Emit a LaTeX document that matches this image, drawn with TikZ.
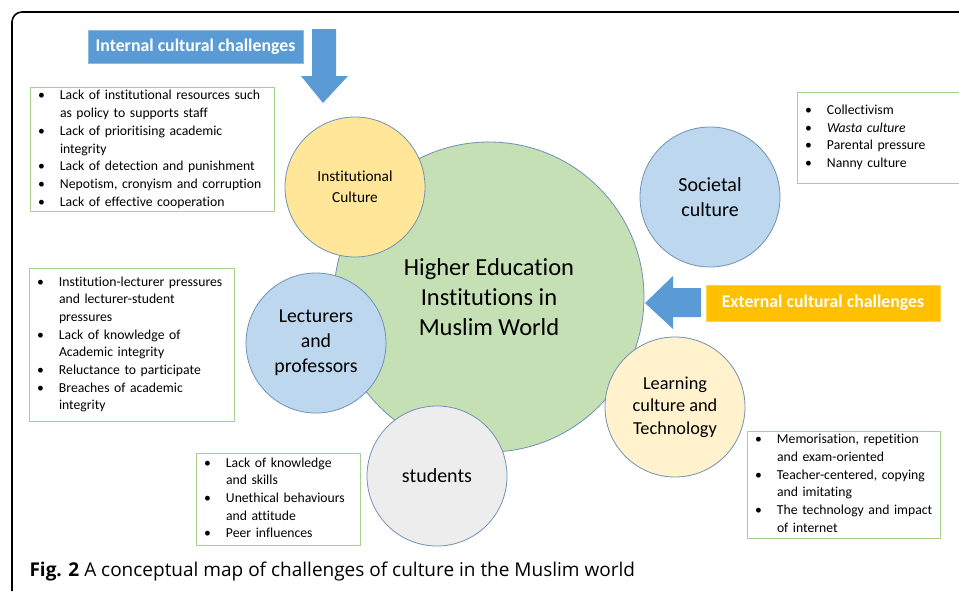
\documentclass[tikz,border=0pt]{standalone}
\usepackage{fontspec}
\setmainfont{Carlito}[Ligatures=NoCommon]
\newfontfamily\capfont{Open Sans}
\usetikzlibrary{positioning}

\definecolor{hubgreen}{RGB}{197,224,180}
\definecolor{circline}{RGB}{110,145,180}
\definecolor{instyellow}{RGB}{255,230,153}
\definecolor{lightblue}{RGB}{189,215,238}
\definecolor{paleyellow}{RGB}{255,242,204}
\definecolor{lightgray}{RGB}{237,237,237}
\definecolor{boxgreen}{RGB}{169,209,142}
\definecolor{tagblue}{RGB}{91,155,213}
\definecolor{tagorange}{RGB}{255,192,0}

\tikzset{
  hub/.style={circle, draw=circline, line width=0.8pt, fill=hubgreen,
    minimum size=310pt, inner sep=0pt, align=center,
    font=\fontsize{24.5}{30}\selectfont},
  area/.style={circle, draw=circline, line width=0.8pt, fill=#1,
    minimum size=140pt, inner sep=0pt, align=center},
  listbox/.style 2 args={draw=boxgreen, line width=0.9pt, fill=white,
    text width=#1-16pt, minimum height=#2, inner xsep=8pt, inner ysep=0pt,
    align=left, font=\fontsize{13.7}{17.7}\selectfont},
  tagbox/.style={fill=#1, draw=#1!70!white, line width=0.6pt, text=white,
    inner sep=0pt, font=\fontsize{17.8}{20}\selectfont\bfseries}
}
\newcommand{\blist}[1]{\begin{tabular}{@{}p{22pt}@{}l@{}}#1\end{tabular}}
\newcommand{\bi}{\textbullet &}

\begin{document}
\begin{tikzpicture}[x=1pt,y=-1pt]
\useasboundingbox (0,0) rectangle (959,592);
\draw[line width=1.6pt, rounded corners=10pt] (12,591) -- (12,12) -- (975,12) -- (975,591);

% centre and the five areas
\node[hub] (hei) at (489,297) {Higher Education\\Institutions in\\Muslim World};
\node[area=instyellow, font=\fontsize{15.3}{21}\selectfont] (inst) at (355,187) {Institutional\\Culture};
\node[area=lightblue, font=\fontsize{20}{25}\selectfont] (soc) at (710,197) {Societal\\culture};
\node[area=lightblue, font=\fontsize{19.8}{25}\selectfont] (lect) at (316,343) {Lecturers\\and\\professors};
\node[area=paleyellow, font=\fontsize{18.3}{22.5}\selectfont] (learn) at (675,407) {Learning\\culture and\\Technology};
\node[area=lightgray, font=\fontsize{20}{24}\selectfont] (stud) at (437,476) {students};

% challenge lists
\node[listbox={244pt}{123pt}] (instlist) at (152,149.5) {\blist{
  \bi Lack of institutional resources such\\
      & as policy to supports staff\\
  \bi Lack of prioritising academic\\
      & integrity\\
  \bi Lack of detection and punishment\\
  \bi Nepotism, cronyism and corruption\\
  \bi Lack of effective cooperation}};
\node[listbox={162pt}{91pt}] (soclist) at (878,137.5) {\blist{
  \bi Collectivism\\
  \bi \textit{Wasta culture}\\
  \bi Parental pressure\\
  \bi Nanny culture}};
\node[listbox={205pt}{153pt}] (lectlist) at (131.5,344.5) {\blist{
  \bi Institution-lecturer pressures\\
      & and lecturer-student\\
      & pressures\\
  \bi Lack of knowledge of\\
      & Academic integrity\\
  \bi Reluctance to participate\\
  \bi Breaches of academic\\
      & integrity}};
\node[listbox={193pt}{107pt}] (learnlist) at (843.5,484.5) {\blist{
  \bi Memorisation, repetition\\
      & and exam-oriented\\
  \bi Teacher-centered, copying\\
      & and imitating\\
  \bi The technology and impact\\
      & of internet}};
\node[listbox={164pt}{92pt}] (studlist) at (278,499) {\blist{
  \bi Lack of knowledge\\
      & and skills\\
  \bi Unethical behaviours\\
      & and attitude\\
  \bi Peer influences}};

% internal and external challenges
\node[tagbox=tagblue, minimum width=215pt, minimum height=33pt] (internal) at (195.5,46.5) {Internal cultural challenges};
\node[tagbox=tagorange, minimum width=234pt, minimum height=36pt] (external) at (823,303) {External cultural challenges};
\fill[tagblue] (312,29) -- (336,29) -- (336,76) -- (348,76) -- (323,103) -- (301,76) -- (312,76) -- cycle;
\fill[tagblue] (701,288) -- (701,317) -- (673,317) -- (673,329) -- (645,303) -- (673,276) -- (673,288) -- cycle;

% caption
\node[anchor=west, font=\capfont\fontsize{19}{22}\selectfont] (cap) at (26,572) {\textbf{Fig. 2} A conceptual map of challenges of culture in the Muslim world};
\end{tikzpicture}
\end{document}
